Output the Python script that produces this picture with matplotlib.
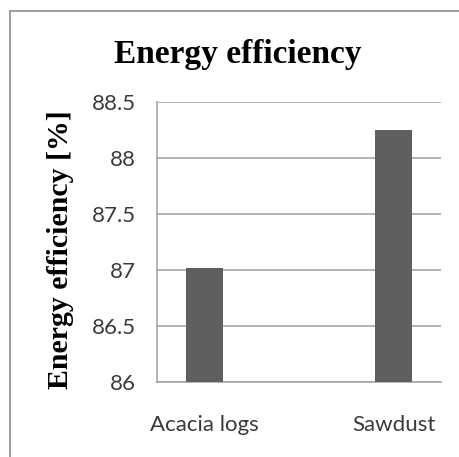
import matplotlib

matplotlib.use("Agg")
import matplotlib.pyplot as plt
from matplotlib.patches import Rectangle

categories = ["Acacia logs", "Sawdust"]
efficiency = [87.02, 88.25]
yticks = [86, 86.5, 87, 87.5, 88, 88.5]
ytick_labels = ["86", "86.5", "87", "87.5", "88", "88.5"]

W, H = 459, 457
BAR = "#5f5f5f"
GRID = "#a6a6a6"

fig = plt.figure(figsize=(W / 100, H / 100), dpi=100)
fig.patch.set_facecolor("white")

# outer chart border (only left/top visible in the crop)
fig.patches.append(Rectangle((10 / W, -0.1), 1.2, (H - 11) / H + 0.1,
                             transform=fig.transFigure, fill=False,
                             edgecolor="#8c8c8c", lw=1.2))

ax = fig.add_axes([157 / W, (H - 382) / H, 284 / W, 280 / H])
x = range(len(categories))
ax.bar(x, efficiency, width=0.196, color=BAR, zorder=3)
ax.set_ylim(86, 88.5)
ax.set_xlim(-0.251, 1.251)
ax.set_yticks(yticks)
ax.set_yticklabels(ytick_labels)
ax.set_xticks(list(x))
ax.set_xticklabels(categories)
ax.yaxis.grid(True, color=GRID, lw=1.2, zorder=0)
for s in ["top", "right"]:
    ax.spines[s].set_visible(False)
for s in ["left", "bottom"]:
    ax.spines[s].set_color(GRID)
    ax.spines[s].set_linewidth(1.2)
ax.tick_params(length=0, labelsize=16, labelcolor="#3a3a3a")
ax.tick_params(axis="y", pad=15)
ax.tick_params(axis="x", pad=23.5)
for lab in ax.get_xticklabels() + ax.get_yticklabels():
    lab.set_fontfamily("Lato")

fig.text(238 / W, 1 - 54 / H, "Energy efficiency", ha="center", va="center",
         fontsize=24, fontweight="bold", family="Liberation Serif")
fig.text(61 / W, 1 - 250 / H, "Energy efficiency [%]", ha="center", va="center",
         rotation=90, fontsize=21.5, fontweight="bold", family="Liberation Serif")

fig.savefig("out.png", dpi=100)
